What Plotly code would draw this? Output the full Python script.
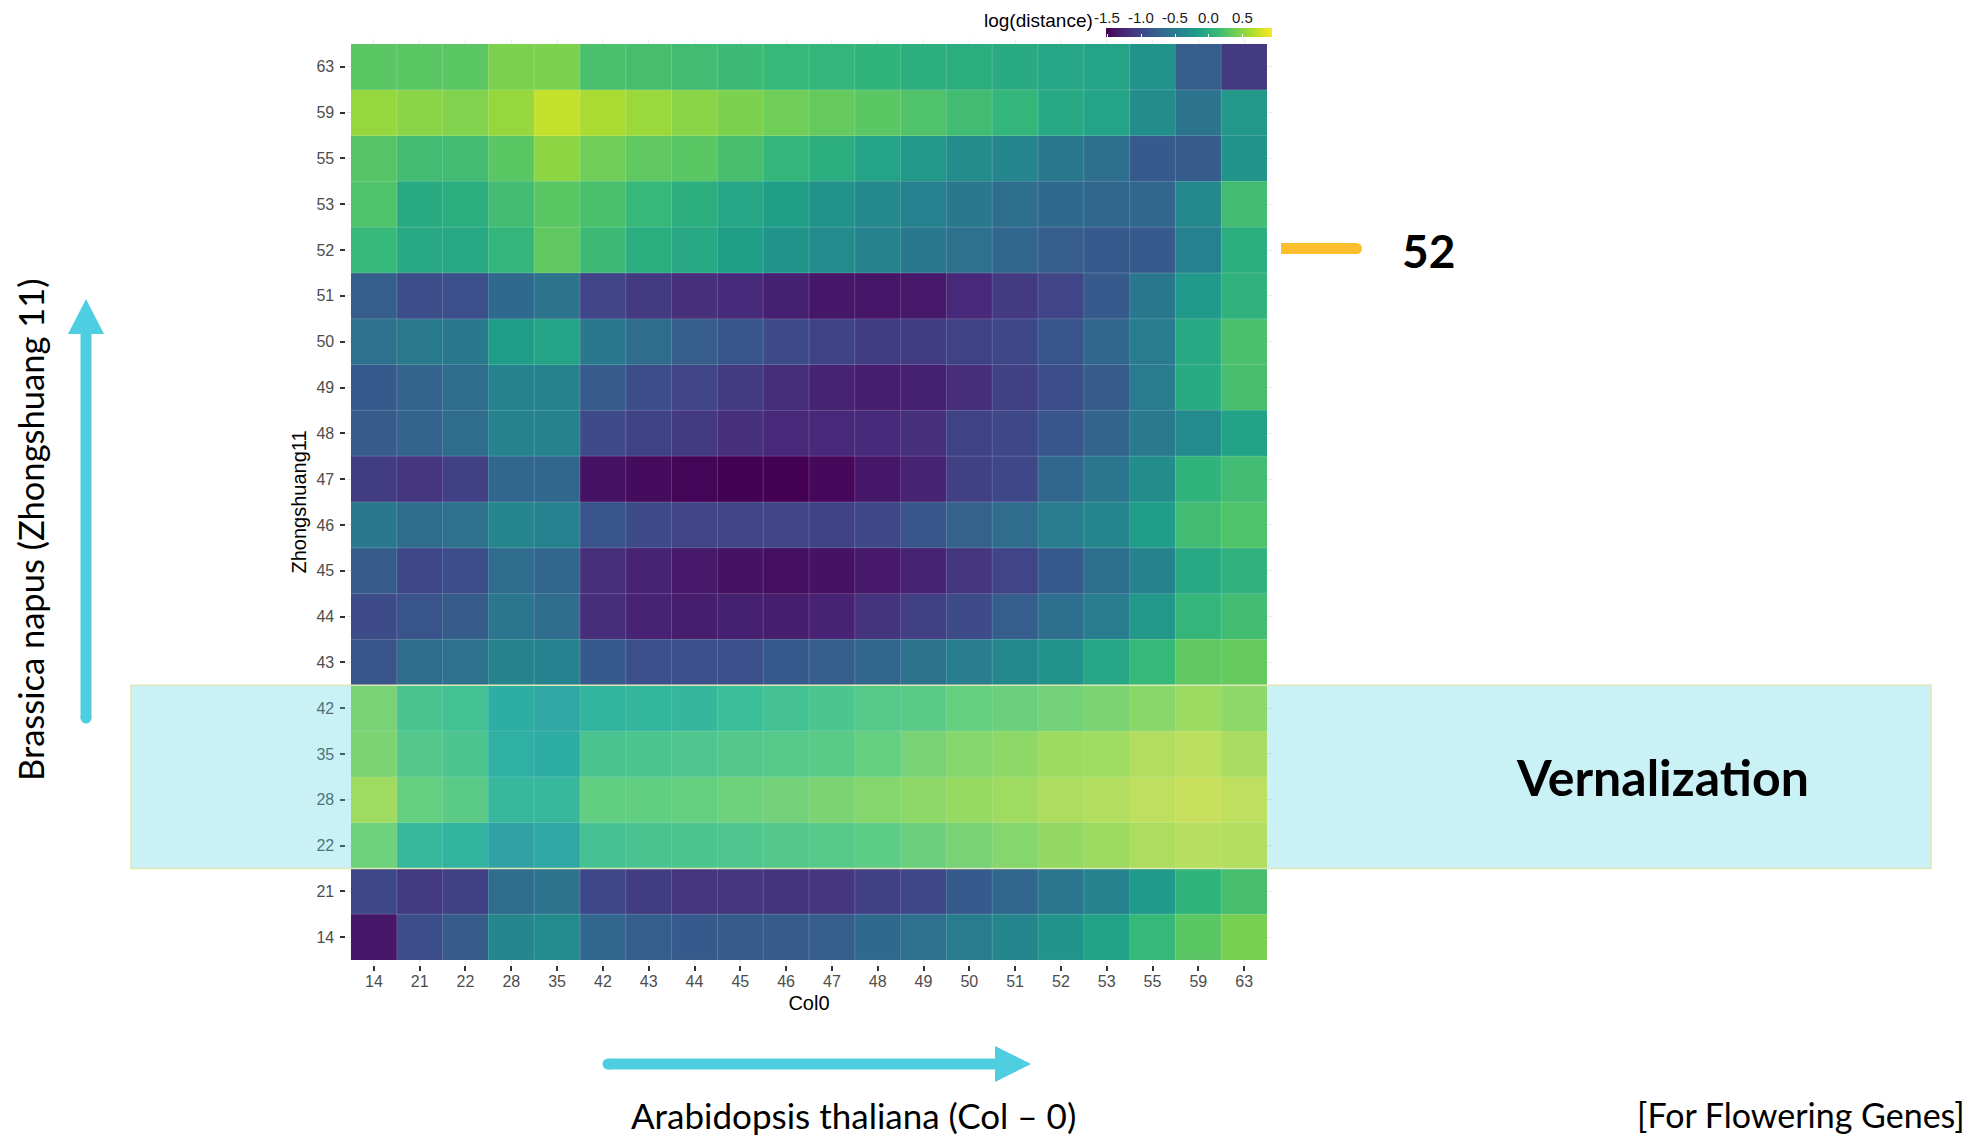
import plotly.graph_objects as go

# ---------------- data ----------------
col0_days = ["14", "21", "22", "28", "35", "42", "43", "44", "45", "46",
             "47", "48", "49", "50", "51", "52", "53", "55", "59", "63"]
zs11_days = ["14", "21", "22", "28", "35", "42", "43", "44", "45", "46",
             "47", "48", "49", "50", "51", "52", "53", "55", "59", "63"]

# log(distance) per Zhongshuang11 day (row), across Col0 days (columns)
zs_14 = [-1.37, -0.93, -0.81, -0.39, -0.34, -0.71, -0.79, -0.83, -0.81, -0.81, -0.79, -0.69, -0.61, -0.49, -0.39, -0.25, -0.12, 0.12, 0.29, 0.42]
zs_21 = [-0.98, -1.10, -1.05, -0.66, -0.59, -0.98, -1.08, -1.13, -1.13, -1.15, -1.13, -1.05, -0.98, -0.83, -0.71, -0.56, -0.42, -0.20, 0.07, 0.20]
zs_22 = [0.44, 0.02, -0.07, -0.30, -0.25, 0.17, 0.20, 0.22, 0.24, 0.27, 0.29, 0.34, 0.42, 0.49, 0.56, 0.64, 0.69, 0.78, 0.83, 0.81]
zs_28 = [0.71, 0.39, 0.32, 0.02, 0.02, 0.37, 0.37, 0.39, 0.44, 0.46, 0.51, 0.56, 0.61, 0.66, 0.71, 0.78, 0.81, 0.88, 0.93, 0.88]
zs_35 = [0.51, 0.27, 0.22, -0.12, -0.17, 0.20, 0.22, 0.24, 0.27, 0.29, 0.32, 0.39, 0.49, 0.56, 0.61, 0.69, 0.71, 0.81, 0.86, 0.76]
zs_42 = [0.49, 0.20, 0.15, -0.15, -0.25, -0.05, -0.03, 0.00, 0.10, 0.17, 0.22, 0.29, 0.32, 0.39, 0.42, 0.46, 0.51, 0.59, 0.69, 0.61]
zs_43 = [-0.88, -0.66, -0.61, -0.42, -0.44, -0.83, -0.91, -0.91, -0.91, -0.83, -0.79, -0.71, -0.59, -0.47, -0.37, -0.27, -0.07, 0.12, 0.32, 0.34]
zs_44 = [-0.96, -0.88, -0.81, -0.56, -0.66, -1.20, -1.28, -1.32, -1.30, -1.32, -1.28, -1.15, -1.05, -0.96, -0.79, -0.64, -0.47, -0.22, 0.10, 0.17]
zs_45 = [-0.81, -0.98, -0.93, -0.66, -0.71, -1.18, -1.28, -1.35, -1.40, -1.42, -1.40, -1.35, -1.28, -1.13, -1.01, -0.83, -0.64, -0.42, -0.05, 0.05]
zs_46 = [-0.54, -0.66, -0.61, -0.39, -0.44, -0.88, -0.96, -1.01, -1.01, -1.01, -1.03, -0.98, -0.86, -0.76, -0.66, -0.49, -0.39, -0.17, 0.17, 0.24]
zs_47 = [-1.08, -1.13, -1.05, -0.71, -0.71, -1.40, -1.45, -1.50, -1.51, -1.52, -1.47, -1.37, -1.28, -1.05, -0.98, -0.71, -0.56, -0.32, 0.07, 0.17]
zs_48 = [-0.81, -0.74, -0.66, -0.42, -0.42, -0.96, -1.03, -1.10, -1.18, -1.25, -1.25, -1.23, -1.18, -1.03, -0.98, -0.86, -0.74, -0.52, -0.34, -0.12]
zs_49 = [-0.83, -0.74, -0.66, -0.42, -0.42, -0.81, -0.93, -1.01, -1.10, -1.20, -1.28, -1.32, -1.30, -1.20, -1.05, -0.93, -0.81, -0.49, -0.03, 0.20]
zs_50 = [-0.61, -0.52, -0.54, -0.17, -0.10, -0.54, -0.66, -0.79, -0.86, -0.96, -1.03, -1.08, -1.08, -1.03, -0.98, -0.88, -0.71, -0.49, -0.05, 0.22]
zs_51 = [-0.79, -0.93, -0.91, -0.69, -0.59, -1.01, -1.10, -1.18, -1.23, -1.30, -1.37, -1.37, -1.35, -1.25, -1.10, -1.01, -0.83, -0.54, -0.20, 0.05]
zs_52 = [0.12, -0.05, -0.05, 0.10, 0.32, 0.15, 0.00, -0.05, -0.15, -0.25, -0.34, -0.42, -0.54, -0.61, -0.71, -0.79, -0.83, -0.83, -0.44, 0.02]
zs_53 = [0.24, -0.03, 0.00, 0.17, 0.29, 0.22, 0.12, 0.02, -0.07, -0.15, -0.27, -0.37, -0.44, -0.54, -0.64, -0.69, -0.71, -0.71, -0.37, 0.17]
zs_55 = [0.27, 0.17, 0.17, 0.29, 0.51, 0.39, 0.32, 0.29, 0.20, 0.10, 0.00, -0.10, -0.22, -0.32, -0.39, -0.54, -0.64, -0.83, -0.81, -0.25]
zs_59 = [0.54, 0.49, 0.46, 0.54, 0.71, 0.61, 0.56, 0.49, 0.44, 0.39, 0.34, 0.29, 0.24, 0.17, 0.10, -0.05, -0.10, -0.32, -0.59, -0.22]
zs_63 = [0.29, 0.29, 0.29, 0.44, 0.44, 0.22, 0.20, 0.17, 0.15, 0.12, 0.10, 0.07, 0.02, 0.00, -0.03, -0.07, -0.10, -0.27, -0.79, -1.10]

z_rows = [zs_14, zs_21, zs_22, zs_28, zs_35, zs_42, zs_43, zs_44, zs_45, zs_46,
          zs_47, zs_48, zs_49, zs_50, zs_51, zs_52, zs_53, zs_55, zs_59, zs_63]

cbar_ticks = [-1.5, -1.0, -0.5, 0.0, 0.5]
cbar_labels = ["-1.5", "-1.0", "-0.5", "0.0", "0.5"]

# ---------------- geometry helpers (page pixels -> paper) ----------------
OFF = 8
W, H = 1956, 1129


def fx(x):
    return (x - OFF) / W


def fy(y):
    return 1 - (y - OFF) / H


ZMIN = min(min(r) for r in z_rows)
ZMAX = max(max(r) for r in z_rows)

CB_LEFT, CB_LEN = 1106, 166
CB_TOP, CB_THICK = 28, 9

TXT = "Liberation Sans"
SLIDE = "Lato"
CYAN = "#4ECFE1"

fig = go.Figure()
fig.add_trace(go.Heatmap(
    z=z_rows, x=col0_days, y=zs11_days,
    colorscale="Viridis", zmin=ZMIN, zmax=ZMAX,
    hovertemplate="Col0 %{x}<br>Zhongshuang11 %{y}<br>log(distance) %{z}<extra></extra>",
    colorbar=dict(
        orientation="h", x=fx(CB_LEFT + CB_LEN / 2), xanchor="center",
        y=fy(CB_TOP), yanchor="top", len=CB_LEN, lenmode="pixels",
        thickness=CB_THICK, xpad=0, ypad=0, outlinewidth=0,
        tickvals=cbar_ticks, showticklabels=False,
        ticks="inside", tickcolor="white", ticklen=3, tickwidth=1,
    ),
))

shapes = []
# faint tile borders
n = len(col0_days)
for i in range(1, n):
    shapes.append(dict(type="line", xref="x", yref="y", x0=i - 0.5, x1=i - 0.5,
                       y0=-0.5, y1=n - 0.5, line=dict(color="rgba(255,255,255,0.18)", width=1),
                       layer="above"))
    shapes.append(dict(type="line", xref="x", yref="y", y0=i - 0.5, y1=i - 0.5,
                       x0=-0.5, x1=n - 0.5, line=dict(color="rgba(255,255,255,0.18)", width=1),
                       layer="above"))

# Vernalization band (rows 22..42)
shapes.append(dict(type="rect", xref="paper", yref="y", x0=fx(131), x1=fx(1931),
                   y0=1.5, y1=5.5, fillcolor="rgba(78,207,225,0.30)",
                   line=dict(color="rgba(222,232,180,1)", width=1.5), layer="above"))

# left arrow (up)
ax_x = 86
shapes.append(dict(type="line", xref="paper", yref="paper", x0=fx(ax_x), x1=fx(ax_x),
                   y0=fy(718), y1=fy(332), line=dict(color=CYAN, width=11)))
shapes.append(dict(type="circle", xref="paper", yref="paper", x0=fx(ax_x - 5.5), x1=fx(ax_x + 5.5),
                   y0=fy(712.5), y1=fy(723.5), fillcolor=CYAN, line=dict(width=0)))
shapes.append(dict(type="path", xref="paper", yref="paper",
                   path=f"M {fx(ax_x - 18)},{fy(334)} L {fx(ax_x + 18)},{fy(334)} L {fx(ax_x)},{fy(299)} Z",
                   fillcolor=CYAN, line=dict(width=0)))

# bottom arrow (right)
ay = 1064
shapes.append(dict(type="line", xref="paper", yref="paper", x0=fx(608), x1=fx(997),
                   y0=fy(ay), y1=fy(ay), line=dict(color=CYAN, width=11)))
shapes.append(dict(type="circle", xref="paper", yref="paper", x0=fx(602.5), x1=fx(613.5),
                   y0=fy(ay - 5.5), y1=fy(ay + 5.5), fillcolor=CYAN, line=dict(width=0)))
shapes.append(dict(type="path", xref="paper", yref="paper",
                   path=f"M {fx(995)},{fy(ay - 18)} L {fx(995)},{fy(ay + 18)} L {fx(1031)},{fy(ay)} Z",
                   fillcolor=CYAN, line=dict(width=0)))

# yellow marker for 52
YEL = "#FBBF2D"
shapes.append(dict(type="line", xref="paper", yref="paper", x0=fx(1281), x1=fx(1356.5),
                   y0=fy(248.5), y1=fy(248.5), line=dict(color=YEL, width=11)))
shapes.append(dict(type="circle", xref="paper", yref="paper", x0=fx(1351), x1=fx(1362),
                   y0=fy(243), y1=fy(254), fillcolor=YEL, line=dict(width=0)))

annotations = []
# colorbar labels (above the bar) and title (left)
for v, lab in zip(cbar_ticks, cbar_labels):
    px = CB_LEFT + (v - ZMIN) / (ZMAX - ZMIN) * CB_LEN
    annotations.append(dict(text=lab, xref="paper", yref="paper", x=fx(px), y=fy(17.5),
                            xanchor="center", yanchor="middle", showarrow=False,
                            font=dict(family=TXT, size=15, color="#1a1a1a")))
annotations.append(dict(text="log(distance)", xref="paper", yref="paper", x=fx(1095), y=fy(21),
                        xanchor="right", yanchor="middle", showarrow=False,
                        font=dict(family=TXT, size=19, color="#000000")))

annotations.append(dict(text="<b>52</b>", xref="paper", yref="paper", x=fx(1428), y=fy(250),
                        xanchor="center", yanchor="middle", showarrow=False,
                        font=dict(family=SLIDE, size=46, color="#000000")))
annotations.append(dict(text="<b>Vernalization</b>", xref="paper", yref="paper", x=fx(1662), y=fy(777),
                        xanchor="center", yanchor="middle", showarrow=False,
                        font=dict(family=SLIDE, size=50, color="#000000")))
annotations.append(dict(text="Brassica napus (Zhongshuang 11)", xref="paper", yref="paper",
                        x=fx(30), y=fy(530), textangle=-90,
                        xanchor="center", yanchor="middle", showarrow=False,
                        font=dict(family=SLIDE, size=34.5, color="#000000")))
annotations.append(dict(text="Arabidopsis thaliana (Col – 0)", xref="paper", yref="paper",
                        x=fx(853), y=fy(1115), xanchor="center", yanchor="middle", showarrow=False,
                        font=dict(family=SLIDE, size=35, color="#000000")))
annotations.append(dict(text="[For Flowering Genes]", xref="paper", yref="paper",
                        x=fx(1967), y=0, xanchor="right", yanchor="bottom", showarrow=False,
                        font=dict(family=SLIDE, size=34, color="#000000")))

axis_common = dict(
    type="category", showgrid=True, gridcolor="#ebebeb", gridwidth=1,
    zeroline=False, showline=False, ticks="outside", ticklen=5, tickwidth=1.5,
    tickcolor="#333333", tickfont=dict(family=TXT, size=16, color="#4d4d4d"),
    range=[-0.6, n - 0.4], fixedrange=True,
)

fig.update_layout(
    width=W, height=H, autosize=False,
    margin=dict(l=0, r=0, t=0, b=0),
    paper_bgcolor="white", plot_bgcolor="white",
    showlegend=False,
    xaxis=dict(axis_common, domain=[fx(346.4), fx(1271.6)],
               categoryorder="array", categoryarray=col0_days, ticklabelstandoff=-3,
               title=dict(text="Col0", font=dict(family=TXT, size=20, color="#000000"), standoff=7)),
    yaxis=dict(axis_common, domain=[fy(964.6), fy(39.4)],
               categoryorder="array", categoryarray=zs11_days, ticklabelstandoff=3,
               title=dict(text="Zhongshuang11", font=dict(family=TXT, size=20, color="#000000"), standoff=4)),
    shapes=shapes,
    annotations=annotations,
)

fig.write_html("out.html")
